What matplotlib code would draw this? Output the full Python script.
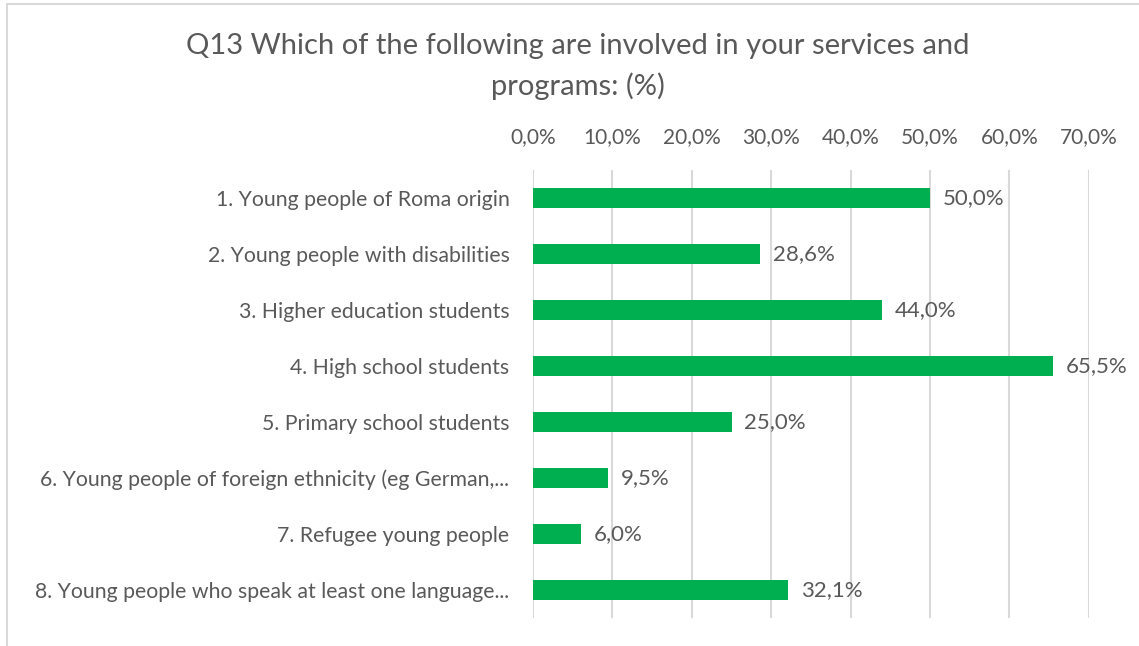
import matplotlib.pyplot as plt
from matplotlib.patches import Rectangle

plt.rcParams['font.family'] = ['Lato', 'DejaVu Sans']

categories = [
    "1. Young people of Roma origin",
    "2. Young people with disabilities",
    "3. Higher education students",
    "4. High school students",
    "5. Primary school students",
    "6. Young people of foreign ethnicity (eg German,...",
    "7. Refugee young people",
    "8. Young people who speak at least one language...",
]
values = [50.0, 28.6, 44.0, 65.5, 25.0, 9.5, 6.0, 32.1]
ticks = [0, 10, 20, 30, 40, 50, 60, 70]

text_color = '#595959'
bar_color = '#00B050'
grid_color = '#D9D9D9'

fig = plt.figure(figsize=(11.39, 6.46), dpi=100)
ax = fig.add_axes([0.468, 0.0433, 0.488, 0.694])

y = list(range(len(categories)))
ax.barh(y, values, height=0.36, color=bar_color, zorder=3)
for yi, v in zip(y, values):
    ax.text(v + 1.6, yi, f"{v:.1f}%".replace('.', ','), va='center', ha='left',
            fontsize=16, color=text_color)

ax.set_xlim(0, 70)
ax.set_ylim(len(categories) - 0.5, -0.5)
ax.set_xticks(ticks)
ax.set_xticklabels([f"{t:.1f}%".replace('.', ',') for t in ticks], fontsize=15, color=text_color)
ax.xaxis.tick_top()
ax.set_yticks(y)
ax.set_yticklabels(categories, fontsize=15.3, color=text_color)
ax.tick_params(axis='both', length=0)
ax.tick_params(axis='x', pad=16)
ax.tick_params(axis='y', pad=17)
ax.grid(axis='x', color=grid_color, linewidth=1.5, zorder=0)
for s in ax.spines.values():
    s.set_visible(False)

fig.text(0.507, 0.897, "Q13 Which of the following are involved in your services and\nprograms: (%)",
         ha='center', va='center', fontsize=21, color=text_color, linespacing=1.6)

# chart frame
fig.patches.append(Rectangle((0.0065, -0.05), 1.05, 1.044, transform=fig.transFigure,
                             fill=False, edgecolor=grid_color, linewidth=1.5))

fig.savefig('out.png', dpi=100)
